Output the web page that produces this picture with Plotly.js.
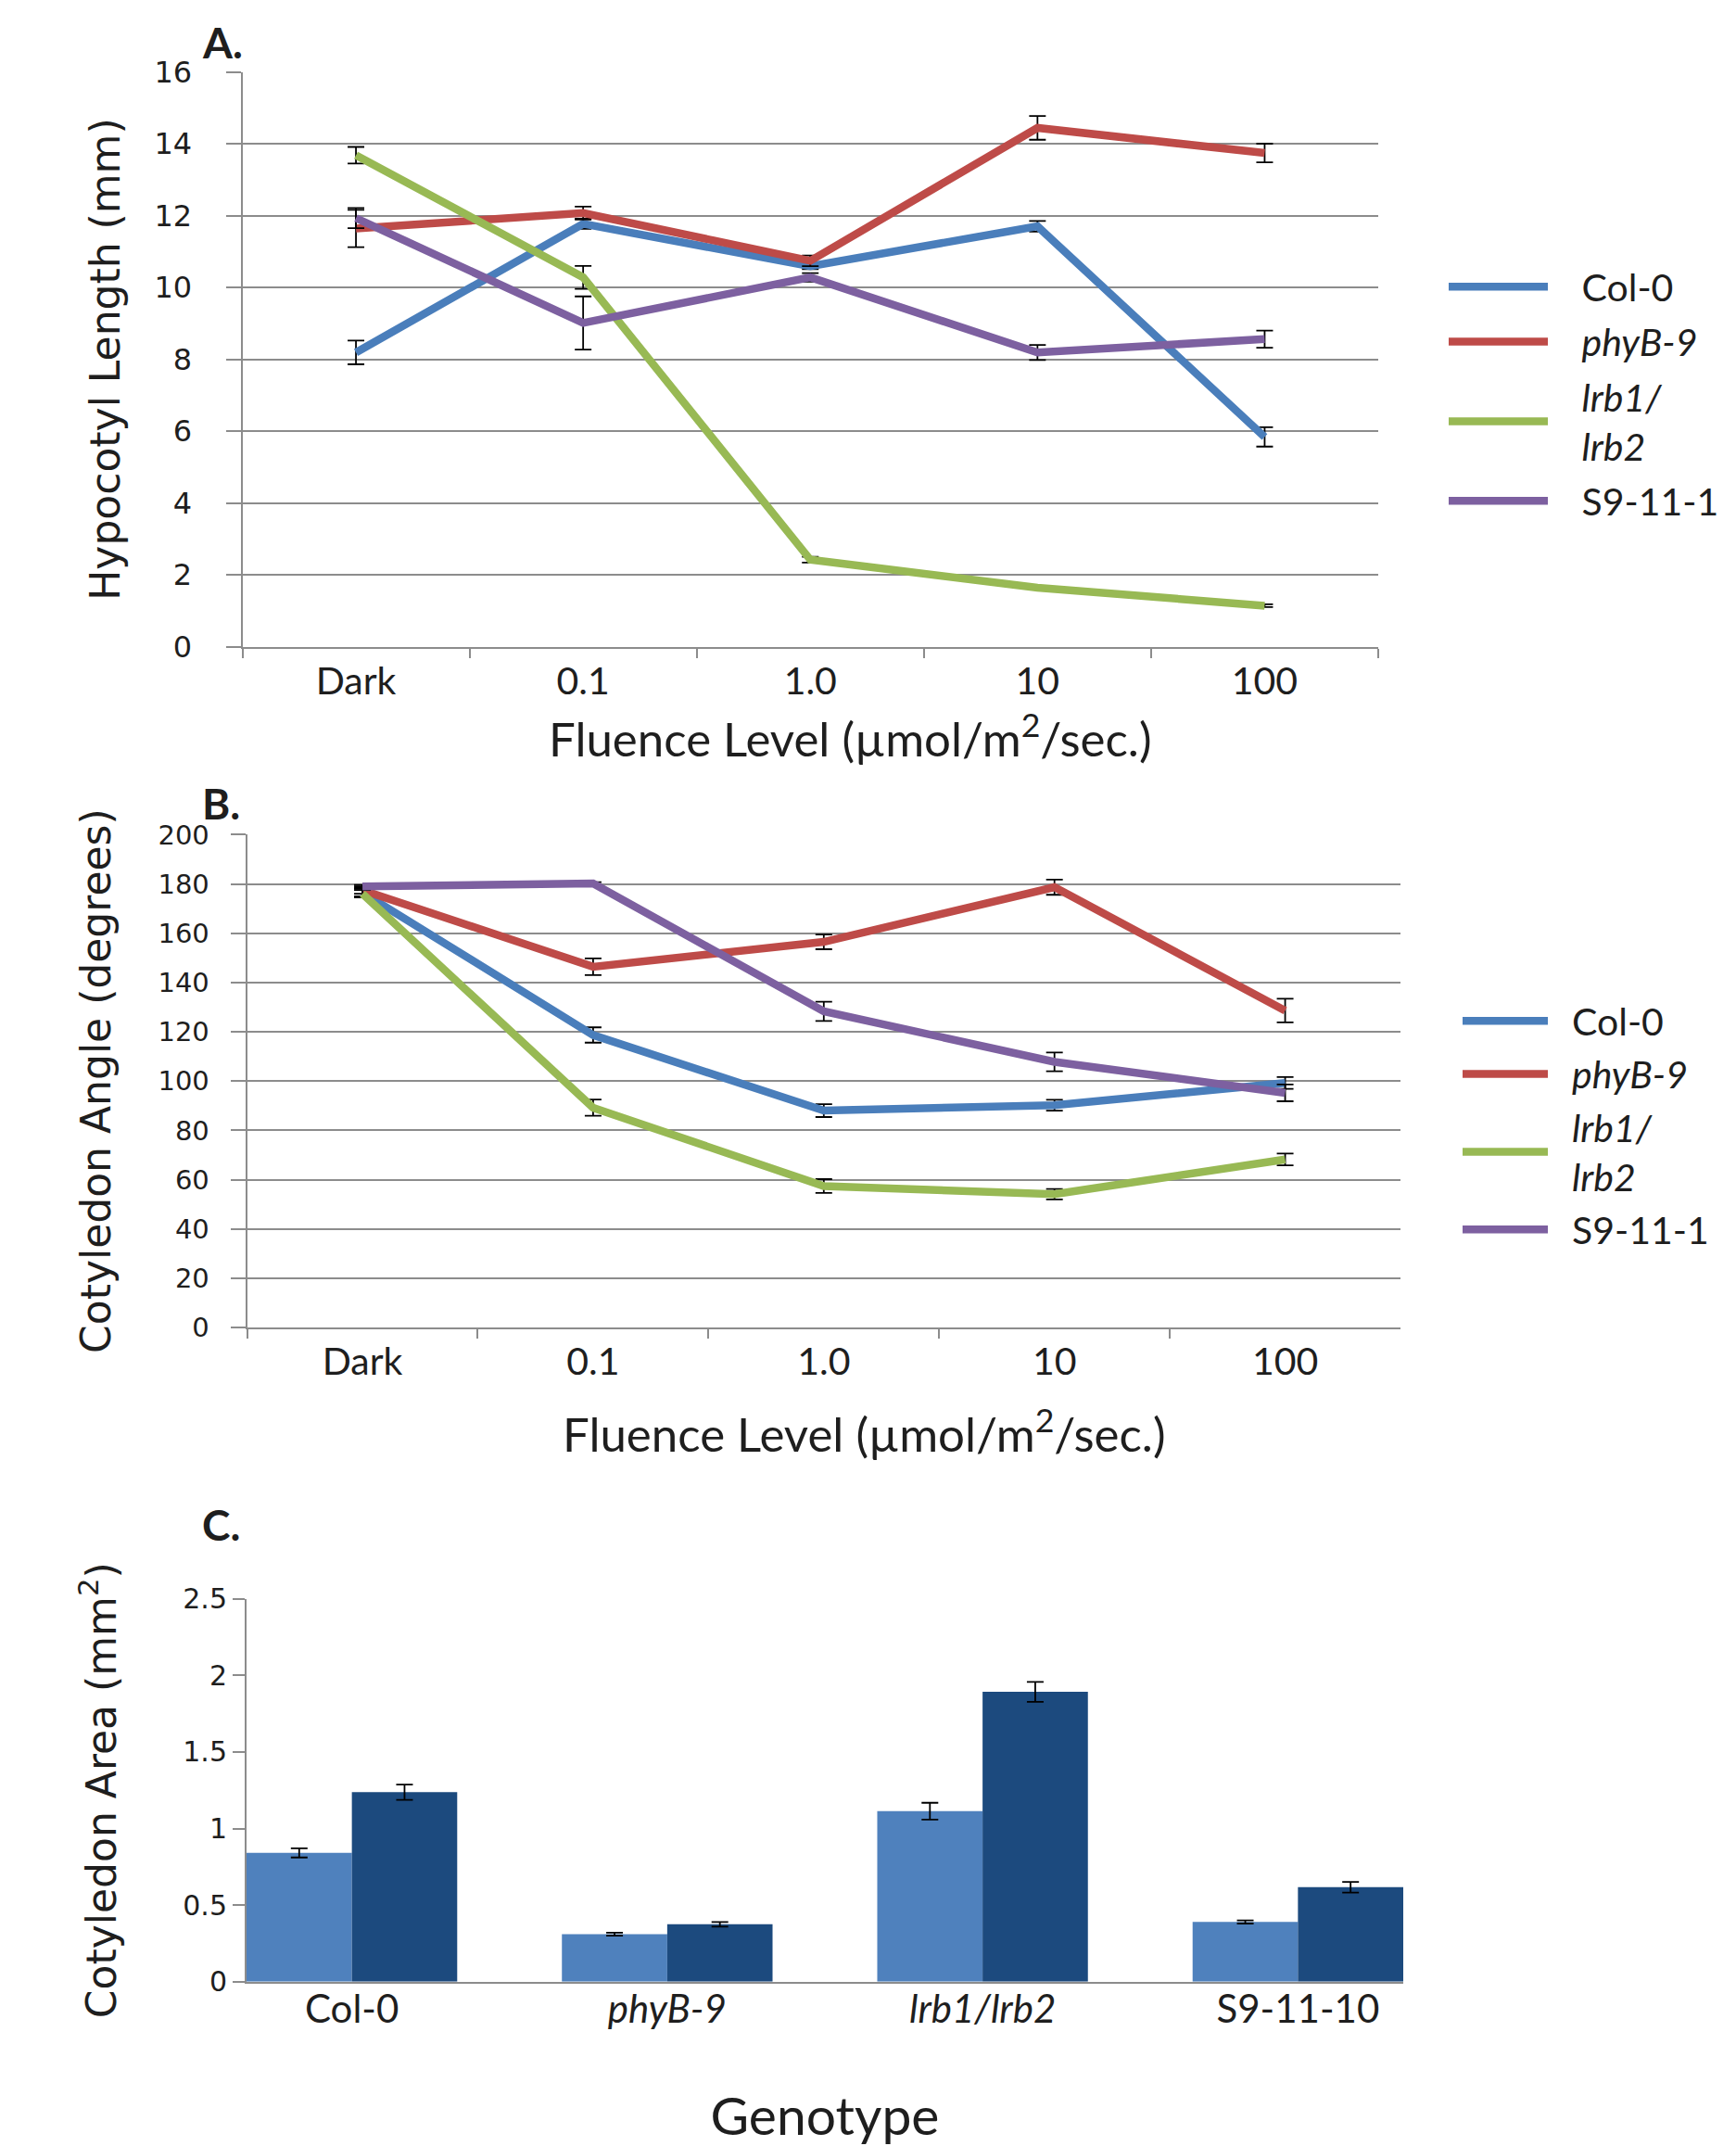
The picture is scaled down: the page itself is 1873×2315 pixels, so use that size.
<!DOCTYPE html>
<html>
<head>
<meta charset="utf-8">
<script src="https://cdn.plot.ly/plotly-3.0.1.min.js"></script>
<style>html,body{margin:0;padding:0;background:#fff;}#chart{width:1873px;height:2315px;}</style>
</head>
<body>
<div id="chart"></div>
<script>
// ---------- DATA ----------
const fluence = ['Dark', '0.1', '1.0', '10', '100'];

// Panel A: Hypocotyl length (mm)
const hypCol0 = [8.19, 11.77, 10.59, 11.70, 5.84];
const hypCol0Err = [0.33, 0.14, 0.08, 0.15, 0.27];
const hypPhyB9 = [11.64, 12.07, 10.74, 14.44, 13.74];
const hypPhyB9Err = [0.52, 0.18, 0.15, 0.33, 0.26];
const hypLrb = [13.68, 10.28, 2.42, 1.64, 1.14];
const hypLrbErr = [0.23, 0.32, 0.08, 0.04, 0.04];
const hypS9 = [11.93, 9.01, 10.28, 8.19, 8.56];
const hypS9Err = [0.28, 0.74, 0.12, 0.21, 0.24];

// Panel B: Cotyledon angle (degrees)
const angCol0 = [176.5, 118.7, 88.0, 90.2, 99.2];
const angCol0Err = [1.5, 3.1, 2.6, 2.2, 2.4];
const angPhyB9 = [177.5, 146.4, 156.5, 178.7, 128.6];
const angPhyB9Err = [1.5, 3.4, 3.0, 3.1, 4.8];
const angLrb = [176.0, 89.2, 57.4, 54.1, 68.2];
const angLrbErr = [1.5, 3.3, 2.8, 2.1, 2.4];
const angS9 = [179.0, 180.2, 128.3, 107.8, 95.2];
const angS9Err = [0.6, 0.5, 3.9, 3.8, 3.4];

// Panel C: Cotyledon area (mm^2)
const genotypes = ['Col-0', 'phyB-9', 'lrb1/lrb2', 'S9-11-10'];
const genotypeLabels = ['Col-0', '<i>phyB-9</i>', '<i>lrb1/lrb2</i>', 'S9-11-10'];
const areaLight = [0.841, 0.31, 1.113, 0.39];
const areaLightErr = [0.03, 0.01, 0.055, 0.01];
const areaDark = [1.237, 0.375, 1.892, 0.617];
const areaDarkErr = [0.05, 0.015, 0.065, 0.035];

const seriesNames = ['Col-0', '<i>phyB-9</i>', '<i>lrb1/</i><br><i>lrb2</i>', 'S9-11-1'];
const seriesColors = ['#4A7EBB', '#BE4B48', '#98B954', '#7D60A0'];

// ---------- STYLE ----------
const W = 1873, H = 2315;
const px = v => v / W;
const py = v => 1 - v / H;
const grid = '#8C8C8C';
const txt = '#1E1E1E';
const calib = 'Lato, "Liberation Sans", sans-serif';
const verd = '"DejaVu Sans", Verdana, sans-serif';

function lineTrace(y, err, i, xa, ya, lg, nsp) {
  const sp = '\u00A0'.repeat(nsp);
  const name = seriesNames[i].split('<br>').map(p => sp + p).join('<br>');
  return {
    type: 'scatter', mode: 'lines', x: fluence, y: y,
    name: name, xaxis: xa, yaxis: ya, legend: lg,
    legendgroup: lg + i,
    line: {color: seriesColors[i], width: 8.5},
    error_y: {type: 'data', array: err, visible: true, color: '#000', thickness: 1.8, width: 9},
    hoverinfo: 'x+y'
  };
}

const traces = [
  lineTrace(hypCol0, hypCol0Err, 0, 'x', 'y', 'legend', 3),
  lineTrace(hypPhyB9, hypPhyB9Err, 1, 'x', 'y', 'legend', 3),
  lineTrace(hypLrb, hypLrbErr, 2, 'x', 'y', 'legend', 3),
  lineTrace(hypS9, hypS9Err, 3, 'x', 'y', 'legend', 3),
  lineTrace(angCol0, angCol0Err, 0, 'x2', 'y2', 'legend2', 2),
  lineTrace(angPhyB9, angPhyB9Err, 1, 'x2', 'y2', 'legend2', 2),
  lineTrace(angLrb, angLrbErr, 2, 'x2', 'y2', 'legend2', 2),
  lineTrace(angS9, angS9Err, 3, 'x2', 'y2', 'legend2', 2),
  {type: 'bar', x: genotypes, y: areaLight, xaxis: 'x3', yaxis: 'y3', showlegend: false,
   name: 'Light', marker: {color: '#4F81BD'},
   error_y: {type: 'data', array: areaLightErr, color: '#000', thickness: 1.8, width: 9}},
  {type: 'bar', x: genotypes, y: areaDark, xaxis: 'x3', yaxis: 'y3', showlegend: false,
   name: 'Dark', marker: {color: '#1C4A7E'},
   error_y: {type: 'data', array: areaDarkErr, color: '#000', thickness: 1.8, width: 9}}
];

const fluenceTitle = 'Fluence Level (µmol/m<sup>2</sup>/sec.)';

function lineX(domain, anchor) {
  return {
    domain: domain, anchor: anchor, type: 'category', categoryorder: 'array', categoryarray: fluence,
    range: [-0.5, 4.5], tickson: 'boundaries', ticks: 'outside', ticklen: 10, tickwidth: 2,
    tickcolor: grid, showline: true, linecolor: grid, linewidth: 2, showgrid: false,
    tickfont: {family: calib, size: 41, color: txt}, zeroline: false
  };
}
function lineY(domain, anchor, range, dtick, title, tsize, lstand, tstand) {
  return {
    domain: domain, anchor: anchor, range: range, dtick: dtick, tick0: 0,
    showgrid: true, gridcolor: grid, gridwidth: 2, zeroline: false,
    showline: true, linecolor: grid, linewidth: 2, ticks: 'outside', ticklen: 16, tickwidth: 2, tickcolor: grid,
    ticklabelstandoff: lstand,
    tickfont: {family: verd, size: tsize, color: txt},
    title: {text: title, font: {family: verd, size: 44, color: txt}, standoff: tstand}
  };
}

const layout = {
  width: W, height: H,
  margin: {l: 0, r: 0, t: 0, b: 0},
  paper_bgcolor: '#fff', plot_bgcolor: 'rgba(0,0,0,0)',
  showlegend: true,
  barmode: 'group', bargap: 0.332, bargroupgap: 0,
  xaxis: lineX([px(261.5), px(1487)], 'y'),
  yaxis: lineY([py(697.6), py(77.5)], 'x', [0, 16], 2, 'Hypocotyl Length (mm)', 32, 30, 23),
  xaxis2: lineX([px(266.6), px(1511)], 'y2'),
  yaxis2: lineY([py(1432), py(900.4)], 'x2', [0, 200], 20, 'Cotyledon Angle (degrees)', 29, 17, 37),
  xaxis3: {
    domain: [px(266), px(1514)], anchor: 'y3', type: 'category', categoryorder: 'array', categoryarray: genotypes,
    range: [-0.334, 3.334], tickmode: 'array', tickvals: genotypes, ticktext: genotypeLabels,
    ticks: '', showline: true, linecolor: grid, linewidth: 2, showgrid: false, zeroline: false,
    ticklabelstandoff: -8,
    tickfont: {family: calib, size: 42, color: txt},
    title: {text: 'Genotype', font: {family: calib, size: 57, color: txt}, standoff: 74}
  },
  yaxis3: {
    domain: [py(2137.8), py(1724.6)], anchor: 'x3', range: [0, 2.5], dtick: 0.5, tick0: 0,
    showgrid: false, zeroline: false, showline: true, linecolor: grid, linewidth: 2,
    ticks: 'outside', ticklen: 13, tickwidth: 2, tickcolor: grid,
    tickfont: {family: verd, size: 30, color: txt},
    title: {text: 'Cotyledon Area (mm<sup>2</sup>)', font: {family: verd, size: 44, color: txt}, standoff: 58}
  },
  legend: {
    x: px(1558), y: py(276), xanchor: 'left', yanchor: 'top',
    font: {family: calib, size: 41, color: txt}, itemwidth: 107, tracegroupgap: 3,
    bgcolor: 'rgba(0,0,0,0)', valign: 'middle'
  },
  legend2: {
    x: px(1573), y: py(1068), xanchor: 'left', yanchor: 'top',
    font: {family: calib, size: 41, color: txt}, itemwidth: 92, tracegroupgap: 1,
    bgcolor: 'rgba(0,0,0,0)', valign: 'middle'
  },
  annotations: [
    {text: '<b>A.</b>', xref: 'paper', yref: 'paper', x: px(216), y: py(45), xanchor: 'left', yanchor: 'middle', showarrow: false, font: {family: calib, size: 46, color: txt}},
    {text: '<b>B.</b>', xref: 'paper', yref: 'paper', x: px(216), y: py(866), xanchor: 'left', yanchor: 'middle', showarrow: false, font: {family: calib, size: 46, color: txt}},
    {text: '<b>C.</b>', xref: 'paper', yref: 'paper', x: px(216), y: py(1644), xanchor: 'left', yanchor: 'middle', showarrow: false, font: {family: calib, size: 46, color: txt}},
    {text: fluenceTitle, xref: 'paper', yref: 'paper', x: px(917), y: py(793), xanchor: 'center', yanchor: 'middle', showarrow: false, font: {family: calib, size: 51, color: txt}},
    {text: fluenceTitle, xref: 'paper', yref: 'paper', x: px(932), y: py(1543), xanchor: 'center', yanchor: 'middle', showarrow: false, font: {family: calib, size: 51, color: txt}}
  ]
};

Plotly.newPlot('chart', traces, layout, {displayModeBar: false, staticPlot: true});
</script>
</body>
</html>
